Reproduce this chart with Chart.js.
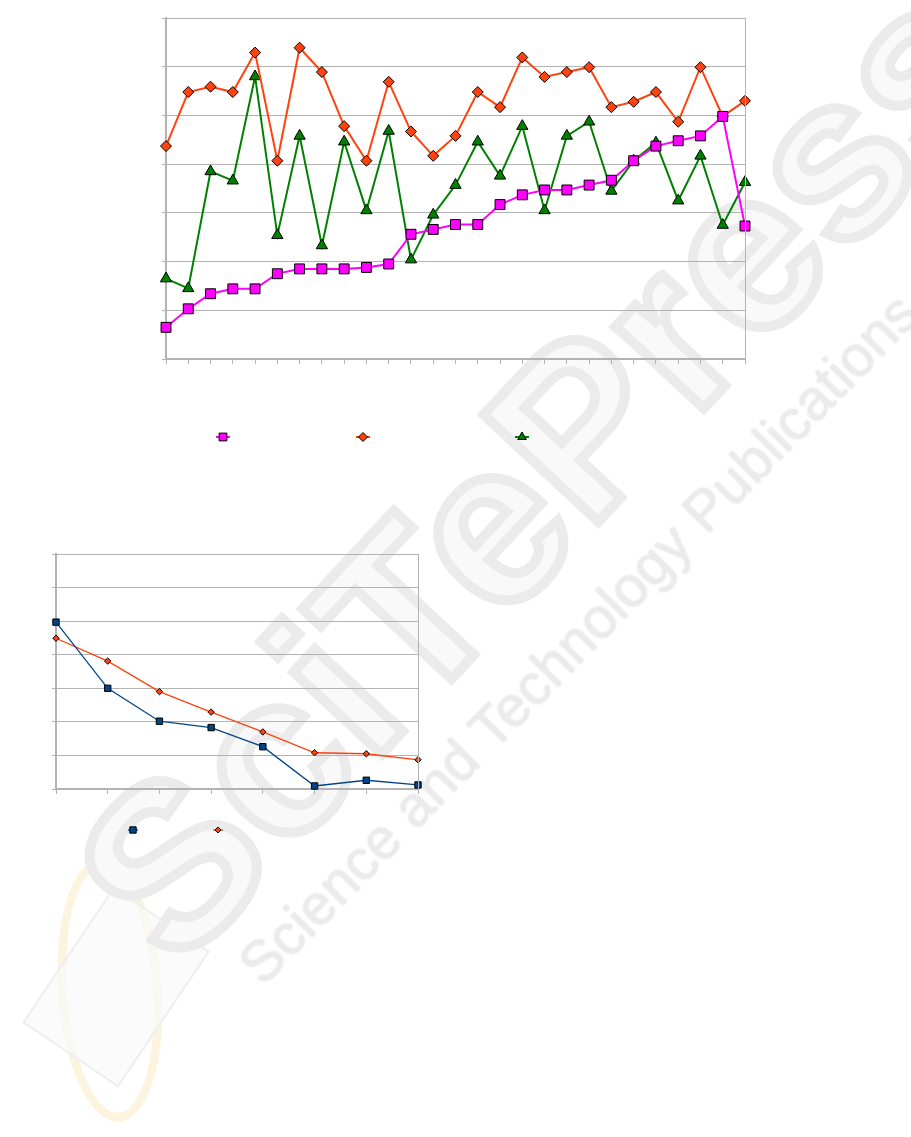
<!DOCTYPE html>
<html>
<head>
<meta charset="utf-8">
<script src="https://cdn.jsdelivr.net/npm/chart.js@4.4.1/dist/chart.umd.min.js"></script>
<style>
html,body{margin:0;padding:0;background:#fff;}
#page{position:relative;width:911px;height:1137px;overflow:hidden;background:#fff;font-family:"Liberation Sans",Arial,sans-serif;}
.wm{position:absolute;white-space:nowrap;transform-origin:0 0;pointer-events:none;}
#wmBig{left:25px;top:830px;font-size:228px;font-weight:bold;color:#f9f9f9;-webkit-text-stroke:10px #ebebeb;transform:rotate(-47deg);letter-spacing:2px;}
#wmSub{left:225px;top:950px;font-size:57px;color:#ebebeb;transform:rotate(-45.5deg);text-shadow:0 0 3px #e4e4e4;}
#wmRing{position:absolute;left:58px;top:858px;width:104px;height:264px;border-radius:50%;border:9px solid #fdf4e0;box-sizing:border-box;transform:rotate(-4deg);}
#wmBox{position:absolute;left:58px;top:905px;width:112px;height:160px;border:2px solid #eeeeee;background:rgba(249,249,249,0.7);transform:rotate(34deg);}
canvas{position:absolute;}
#c1{left:0;top:0;}
#c2{left:0;top:500px;}
</style>
</head>
<body>
<div id="page">
  <div id="wmRing"></div>
  <div id="wmBox"></div>
  <div class="wm" id="wmBig">SciTePress</div>
  <div class="wm" id="wmSub">Science and Technology Publications</div>
  <canvas id="c1" width="911" height="470"></canvas>
  <canvas id="c2" width="500" height="360"></canvas>
</div>
<script>
// top chart
const topLabels=['1','2','3','4','5','6','7','8','9','10','11','12','13','14','15','16','17','18','19','20','21','22','23','24','25','26','27'];
const pinkValues=[0.65,1.03,1.34,1.44,1.44,1.75,1.85,1.85,1.85,1.88,1.95,2.56,2.66,2.76,2.76,3.17,3.37,3.47,3.47,3.57,3.67,4.07,4.37,4.48,4.58,4.98,2.73];
const orangeValues=[4.37,5.48,5.59,5.48,6.29,4.07,6.39,5.89,4.78,4.07,5.69,4.67,4.17,4.58,5.48,5.17,6.19,5.79,5.89,5.99,5.17,5.28,5.48,4.87,5.99,4.98,5.30];
const greenValues=[1.65,1.45,3.85,3.66,5.80,2.54,4.58,2.33,4.46,3.05,4.68,2.04,2.96,3.57,4.46,3.76,4.78,3.05,4.58,4.87,3.45,4.07,4.44,3.25,4.17,2.75,3.63];
const topSeriesNames=['','',''];

// bottom chart
const bottomLabels=['1','2','3','4','5','6','7','8'];
const blueValues=[4.97,3.00,2.02,1.83,1.26,0.09,0.26,0.12];
const redValues=[4.49,3.81,2.90,2.29,1.70,1.08,1.05,0.87];
const bottomSeriesNames=['',''];

const gridGrey='#b3b3b3';

function ds(label,data,color,style,r,lw){
    return {label,data,borderColor:color,backgroundColor:color,borderWidth:lw,
        pointStyle:style,pointRadius:r,pointHoverRadius:r,pointBackgroundColor:color,
        pointBorderColor:'#000',pointBorderWidth:1,tension:0,clip:false};
}

// frame on right side + legend with marker and short line
const framePlugin={
    id:'frame',
    afterDraw(chart,args,opts){
        const ctx=chart.ctx,a=chart.chartArea;
        ctx.save();
        ctx.strokeStyle=gridGrey;ctx.lineWidth=1;
        ctx.beginPath();ctx.moveTo(a.right+0.5,a.top);ctx.lineTo(a.right+0.5,a.bottom);ctx.stroke();
        chart.data.datasets.forEach((d,i)=>{
            const x=opts.xs[i],y=opts.y;
            ctx.strokeStyle=d.borderColor;ctx.lineWidth=d.borderWidth;
            ctx.beginPath();ctx.moveTo(x-opts.half,y);ctx.lineTo(x+opts.half,y);ctx.stroke();
            ctx.fillStyle=d.pointBackgroundColor;ctx.strokeStyle='#000';ctx.lineWidth=1;
            Chart.helpers.drawPoint(ctx,{pointStyle:d.pointStyle,radius:opts.r[i],rotation:0,borderWidth:1},x,y);
        });
        ctx.restore();
    }
};

function axes(yMax,yWidth,xHeight,yBorder){
    return {
        x:{grid:{display:true,drawOnChartArea:false,drawTicks:true,tickLength:5,color:gridGrey},
           border:{display:true,color:gridGrey,width:2},ticks:{display:false},offset:false,
           afterFit:s=>{s.height=xHeight;}},
        y:{min:0,max:yMax,grid:{color:gridGrey,tickLength:4,drawTicks:true},
           border:{display:true,color:gridGrey,width:yBorder},
           ticks:{display:false,stepSize:1},afterFit:s=>{s.width=yWidth;}}
    };
}

new Chart(document.getElementById('c1'),{
    type:'line',
    data:{labels:topLabels,datasets:[
        ds(topSeriesNames[0],pinkValues,'#ff00ff','rect',7,2),
        ds(topSeriesNames[1],orangeValues,'#ff420e','rectRot',5.5,2),
        ds(topSeriesNames[2],greenValues,'#008000','triangle',6.5,2)
    ]},
    options:{
        responsive:false,animation:false,
        layout:{padding:{left:0,right:166,top:18,bottom:101}},
        plugins:{legend:{display:false},tooltip:{enabled:false},
            frame:{xs:[223,363,522],y:437,half:7,r:[5.5,4.5,5]}},
        scales:axes(7,166,10,2)
    },
    plugins:[framePlugin]
});

new Chart(document.getElementById('c2'),{
    type:'line',
    data:{labels:bottomLabels,datasets:[
        ds(bottomSeriesNames[0],blueValues,'#004586','rect',4.5,1.3),
        ds(bottomSeriesNames[1],redValues,'#ff420e','rectRot',3.2,1.3)
    ]},
    options:{
        responsive:false,animation:false,
        layout:{padding:{left:0,right:82,top:54,bottom:63}},
        plugins:{legend:{display:false},tooltip:{enabled:false},
            frame:{xs:[133,218],y:330,half:5,r:[4.5,3]}},
        scales:axes(7,56,8,2)
    },
    plugins:[framePlugin]
});
</script>
</body>
</html>
